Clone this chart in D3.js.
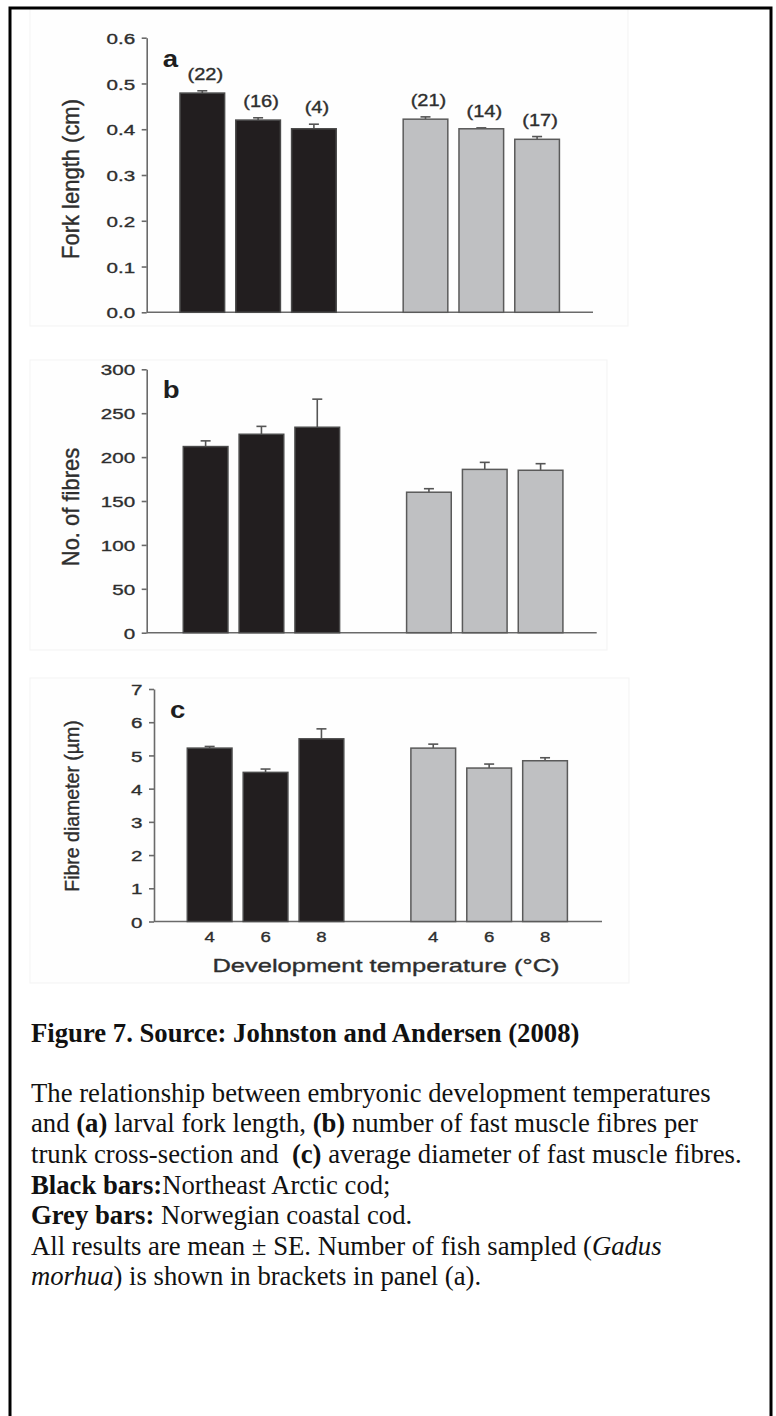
<!DOCTYPE html>
<html>
<head>
<meta charset="utf-8">
<script src="https://cdn.jsdelivr.net/npm/d3@7"></script>
<style>
  html, body { margin: 0; padding: 0; background: #fff; }
  svg { display: block; }
</style>
</head>
<body>
<svg id="fig" width="776" height="1416"></svg>
<script>
// ---------------- DATA ----------------
const slots = ["NEA-4", "NEA-6", "NEA-8", "gap", "NCC-4", "NCC-6", "NCC-8"];
const barSlots = ["NEA-4", "NEA-6", "NEA-8", "NCC-4", "NCC-6", "NCC-8"];
const temperatures = ["4", "6", "8", "4", "6", "8"];
const stocks = ["NEA", "NEA", "NEA", "NCC", "NCC", "NCC"];

const forkLength   = [0.479, 0.420, 0.401, 0.422, 0.401, 0.378];
const forkLengthSE = [0.005, 0.005, 0.010, 0.005, 0.002, 0.006];
const sampleSizes  = ["(22)", "(16)", "(4)", "(21)", "(14)", "(17)"];

const fibreCount   = [212, 226, 234, 160, 186, 185];
const fibreCountSE = [6.5, 9, 32, 4, 8, 7.5];

const fibreDiameter   = [5.22, 4.49, 5.50, 5.22, 4.62, 4.84];
const fibreDiameterSE = [0.05, 0.10, 0.30, 0.12, 0.12, 0.09];

const ticksA = [0.0, 0.1, 0.2, 0.3, 0.4, 0.5, 0.6];
const ticksB = [0, 50, 100, 150, 200, 250, 300];
const ticksC = [0, 1, 2, 3, 4, 5, 6, 7];

const captionTitle = "Figure 7. Source: Johnston and Andersen (2008)";

// ---------------- DRAW ----------------
const svg = d3.select("#fig");
const TXT = "#2e2e2e";
const AX = "#6a6a6a";
const SANS = "'Liberation Sans', Arial, Helvetica, sans-serif";
const SERIF = "'Liberation Serif', 'Times New Roman', serif";

// faint frames of the pasted panel images
[[30, 8, 598, 318], [30, 360, 577, 290], [30, 678, 599, 305]].forEach(r => {
  svg.append("rect").attr("x", r[0]).attr("y", r[1]).attr("width", r[2]).attr("height", r[3])
    .attr("fill", "#fefefe").attr("stroke", "#f3f3f3").attr("stroke-width", 1);
});

function stretchText(sel, sx) {
  sel.each(function () {
    const t = d3.select(this);
    const x = +t.attr("x") || 0;
    const y = +t.attr("y") || 0;
    t.attr("x", 0).attr("y", 0)
      .attr("transform", `translate(${x},${y}) scale(${sx},1)`);
  });
}

function soften(sel) {
  sel.attr("stroke", TXT).attr("stroke-width", 0.35);
}

function panel(cfg) {
  const g = svg.append("g");
  const x = d3.scaleBand().domain(slots).range(cfg.band).paddingInner(0.2).paddingOuter(0.1);
  const y = d3.scaleLinear().domain([0, cfg.max]).range(cfg.yRange);

  // y axis
  const ax = g.append("g").attr("transform", `translate(${cfg.axisX},0)`)
    .call(d3.axisLeft(y).tickValues(cfg.ticks).tickFormat(cfg.fmt)
      .tickSize(5).tickSizeOuter(0).tickPadding(6.5));
  ax.select(".domain").attr("stroke", AX).attr("stroke-width", 1.6);
  ax.selectAll(".tick line").attr("stroke", AX).attr("stroke-width", 1.6);
  ax.selectAll(".tick text").attr("font-family", SANS).attr("font-size", 15.5)
    .attr("fill", TXT).attr("dy", "0.36em");
  soften(ax.selectAll(".tick text"));
  stretchText(ax.selectAll(".tick text"), 1.33);

  // baseline
  g.append("line").attr("x1", cfg.axisX).attr("x2", cfg.xEnd)
    .attr("y1", y(0)).attr("y2", y(0)).attr("stroke", AX).attr("stroke-width", 1.6);

  const data = barSlots.map((s, i) => ({ slot: s, v: cfg.values[i], se: cfg.se[i], stock: stocks[i], i }));

  // error bars
  const eb = g.selectAll("g.eb").data(data).join("g").attr("class", "eb");
  eb.append("line")
    .attr("x1", d => x(d.slot) + x.bandwidth() / 2).attr("x2", d => x(d.slot) + x.bandwidth() / 2)
    .attr("y1", d => y(d.v)).attr("y2", d => y(d.v + d.se))
    .attr("stroke", "#555").attr("stroke-width", 1.6);
  eb.append("line")
    .attr("x1", d => x(d.slot) + x.bandwidth() / 2 - 5).attr("x2", d => x(d.slot) + x.bandwidth() / 2 + 5)
    .attr("y1", d => y(d.v + d.se)).attr("y2", d => y(d.v + d.se))
    .attr("stroke", "#555").attr("stroke-width", 1.6);

  // bars
  g.selectAll("rect.bar").data(data).join("rect").attr("class", "bar")
    .attr("x", d => x(d.slot)).attr("width", x.bandwidth())
    .attr("y", d => y(d.v)).attr("height", d => y(0) - y(d.v))
    .attr("fill", d => d.stock === "NEA" ? "#221e1f" : "#bfc0c2")
    .attr("stroke", d => d.stock === "NEA" ? "#4a4a4a" : "#5a5a5a")
    .attr("stroke-width", 1.5);

  // panel letter
  const lt = g.append("text").attr("x", cfg.axisX + 16).attr("y", y(cfg.max) + 29)
    .attr("font-family", SANS).attr("font-weight", "bold").attr("font-size", 23)
    .attr("fill", "#1e1e1e").text(cfg.letter);
  stretchText(lt, 1.2);

  // y label
  const yl = g.append("text")
    .attr("transform", `translate(${cfg.labelX},${cfg.labelY}) scale(1.08,1) rotate(-90)`)
    .attr("text-anchor", "middle").attr("font-family", SANS)
    .attr("font-size", cfg.labelSize).attr("fill", TXT).text(cfg.label);
  soften(yl);

  return { g, x, y, data };
}

// Panel a
const pa = panel({
  values: forkLength, se: forkLengthSE, max: 0.6, ticks: ticksA, fmt: d3.format(".1f"),
  axisX: 146.7, xEnd: 593, yRange: [312.3, 37.7], band: [174.4, 565],
  letter: "a", label: "Fork length (cm)", labelX: 78.5, labelY: 179, labelSize: 22
});
const nl = pa.g.selectAll("text.n").data(pa.data).join("text").attr("class", "n")
  .attr("x", d => pa.x(d.slot) + pa.x.bandwidth() / 2 + 3)
  .attr("y", d => pa.y(d.v + d.se) - 11)
  .attr("text-anchor", "middle").attr("font-family", SANS).attr("font-size", 16)
  .attr("fill", TXT).text(d => sampleSizes[d.i]);
soften(nl);
stretchText(nl, 1.25);

// Panel b
panel({
  values: fibreCount, se: fibreCountSE, max: 300, ticks: ticksB, fmt: d3.format("d"),
  axisX: 146.7, xEnd: 596.7, yRange: [632.7, 369.3], band: [177.7, 568.5],
  letter: "b", label: "No. of fibres", labelX: 78.5, labelY: 507, labelSize: 22
});

// Panel c
const pc = panel({
  values: fibreDiameter, se: fibreDiameterSE, max: 7, ticks: ticksC, fmt: d3.format("d"),
  axisX: 154, xEnd: 602, yRange: [921.5, 689], band: [181.7, 573],
  letter: "c", label: "Fibre diameter (\u00B5m)", labelX: 78.5, labelY: 806, labelSize: 19.5
});
const xt = pc.g.selectAll("text.xt").data(pc.data).join("text").attr("class", "xt")
  .attr("x", d => pc.x(d.slot) + pc.x.bandwidth() / 2).attr("y", 942.3)
  .attr("text-anchor", "middle").attr("font-family", SANS).attr("font-size", 15.5)
  .attr("fill", TXT).text(d => temperatures[d.i]);
soften(xt);
stretchText(xt, 1.2);
const xtitle = pc.g.append("text").attr("x", 386).attr("y", 971.7)
  .attr("text-anchor", "middle").attr("font-family", SANS).attr("font-size", 18.6)
  .attr("fill", TXT).text("Development temperature (\u00B0C)");
soften(xtitle);
stretchText(xtitle, 1.37);

// ---------------- CAPTION ----------------
const cap = svg.append("g").attr("font-family", SERIF).attr("font-size", 26.7).attr("fill", "#111");
cap.append("text").attr("x", 31).attr("y", 1041.7).attr("font-weight", "bold").text(captionTitle);

const lines = [
  [["The relationship between embryonic development temperatures", ""]],
  [["and ", ""], ["(a)", "b"], [" larval fork length, ", ""], ["(b)", "b"], [" number of fast muscle fibres per", ""]],
  [["trunk cross-section and \u00A0", ""], ["(c)", "b"], [" average diameter of fast muscle fibres.", ""]],
  [["Black bars:", "b"], ["Northeast Arctic cod;", ""]],
  [["Grey bars:", "b"], [" Norwegian coastal cod.", ""]],
  [["All results are mean \u00B1 SE. Number of fish sampled (", ""], ["Gadus", "i"]],
  [["morhua", "i"], [") is shown in brackets in panel (a).", ""]]
];
lines.forEach((parts, li) => {
  const t = cap.append("text").attr("x", 31).attr("y", 1101.7 + li * 30.6)
    .style("white-space", "pre");
  parts.forEach(([s, st]) => {
    const sp = t.append("tspan").text(s);
    if (st === "b") sp.attr("font-weight", "bold");
    if (st === "i") sp.attr("font-style", "italic");
  });
});

// outer border
svg.append("rect").attr("x", 10).attr("y", 8).attr("width", 761).attr("height", 1430)
  .attr("fill", "none").attr("stroke", "#000").attr("stroke-width", 3);
</script>
</body>
</html>
